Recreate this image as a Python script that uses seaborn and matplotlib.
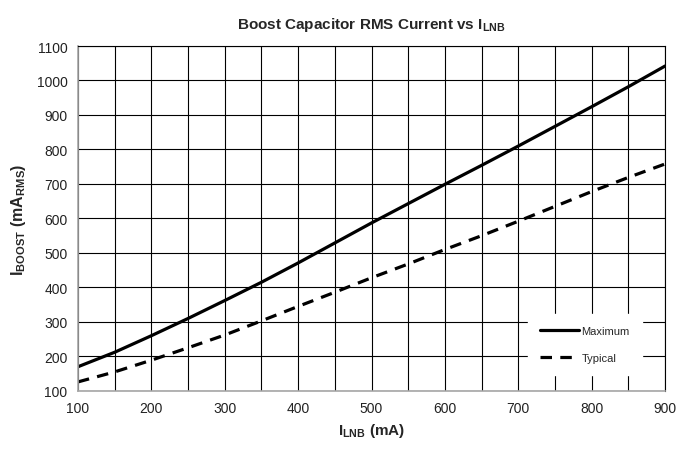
import pandas as pd
import seaborn as sns
import numpy as np
import matplotlib
matplotlib.use("Agg")
import matplotlib.pyplot as plt
from matplotlib.ticker import MultipleLocator

# values (I_LNB in mA, I_BOOST in mA RMS)
i_lnb = [100, 150, 200, 250, 300, 350, 400, 450, 500,
         550, 600, 650, 700, 750, 800, 850, 900]
boost_max = [170, 212, 260, 310, 362, 415, 471, 529, 587,
             643, 699, 754, 810, 867, 924, 982, 1042]
boost_typ = [126, 155, 189, 225, 262, 303, 345, 386, 428,
             468, 510, 550, 592, 635, 678, 719, 758]
series_names = ["Maximum", "Typical"]

df = pd.DataFrame({
    "I_LNB": i_lnb * 2,
    "I_BOOST": boost_max + boost_typ,
    "Series": [series_names[0]] * len(i_lnb) + [series_names[1]] * len(i_lnb),
})

sns.set_style("white")
plt.rcParams["font.family"] = ["Liberation Sans", "DejaVu Sans"]
plt.rcParams["mathtext.fontset"] = "custom"
plt.rcParams["mathtext.rm"] = "Liberation Sans"
plt.rcParams["mathtext.bf"] = "Liberation Sans:bold"

fig = plt.figure(figsize=(6.78, 4.52), dpi=100)
ax = fig.add_axes([0.115, 0.133, 0.866, 0.763])

sns.lineplot(data=df, x="I_LNB", y="I_BOOST", style="Series",
             dashes={"Maximum": "", "Typical": (3.6, 2.6)},
             color="black", linewidth=2.3, ax=ax, legend=True)

ax.set_xlim(100, 900)
ax.set_ylim(100, 1100)
ax.set_xticks(range(100, 901, 100))
ax.set_yticks(range(100, 1101, 100))
ax.xaxis.set_minor_locator(MultipleLocator(50))
ax.grid(which="major", axis="both", color="black", linewidth=0.8)
ax.grid(which="minor", axis="x", color="black", linewidth=0.8)
ax.set_axisbelow(True)

for side in ["left", "bottom"]:
    ax.spines[side].set_color("#a6a6a6")
    ax.spines[side].set_linewidth(1.2)
for side in ["top", "right"]:
    ax.spines[side].set_color("black")
    ax.spines[side].set_linewidth(0.8)

ax.tick_params(which="major", direction="out", length=4, width=1,
               color="#a6a6a6", labelsize=10, labelcolor="#222222")
ax.tick_params(which="minor", length=0)

ax.set_title(r"Boost Capacitor RMS Current vs I$_{\mathbf{LNB}}$",
             fontsize=11, fontweight="bold", pad=13)
ax.set_xlabel(r"I$_{\mathbf{LNB}}$ (mA)", fontsize=11, fontweight="bold", labelpad=4)
ax.set_ylabel(r"I$_{\mathbf{BOOST}}$ (mA$_{\mathbf{RMS}}$)", fontsize=11.5,
              fontweight="bold", labelpad=6)

leg = ax.legend(loc="lower right", bbox_to_anchor=(0.97, 0.03), fontsize=8,
                handlelength=3.5, labelspacing=1.5, borderpad=1.1,
                handletextpad=0.2, frameon=True, fancybox=False)
leg.get_frame().set_facecolor("white")
leg.get_frame().set_edgecolor("white")
leg.get_frame().set_alpha(1)

fig.savefig("out.png", dpi=100)
